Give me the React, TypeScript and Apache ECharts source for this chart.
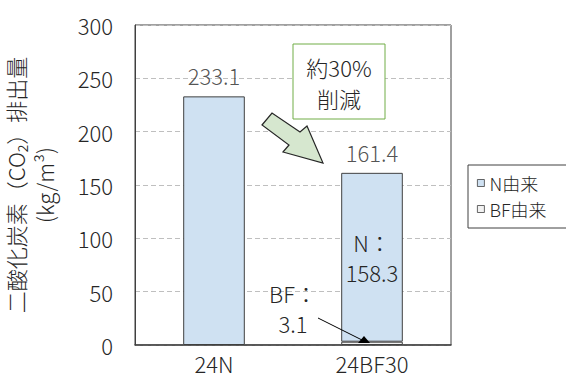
import React, { useEffect, useRef } from "react";
import * as echarts from "echarts";

const categories = ["24N", "24BF30"];
const nValues = [233.1, 158.3];
const bfValues: (number | null)[] = [null, 3.1];
const totals = [233.1, 161.4];
const yTicks = [0, 50, 100, 150, 200, 250, 300];
const seriesNames = ["N由来", "BF由来"];
const yTitle = "二酸化炭素（CO₂）排出量\n(kg/m³)";
const noteText = "約30%\n削減";

const FONT = "'Noto Sans CJK JP', 'Noto Sans', sans-serif";
const TXT = "#262626";
const FW = 300;

export default function App() {
  const ref = useRef<HTMLDivElement>(null);
  useEffect(() => {
    if (!ref.current) return;
    const chart = echarts.init(ref.current, null, { renderer: "svg" });
    const option: any = {
      animation: false,
      textStyle: { fontFamily: FONT, fontWeight: FW },
      grid: {
        left: 135,
        right: 115,
        top: 25,
        bottom: 35,
        show: true,
        borderColor: "#404040",
        borderWidth: 1,
        containLabel: false,
        outerBoundsMode: "none",
      },
      legend: {
        data: [seriesNames[0], seriesNames[1]],
        orient: "vertical",
        left: 468,
        top: 165,
        padding: [8, 60, 9, 9],
        itemGap: 6,
        itemWidth: 7,
        itemHeight: 7,
        icon: "rect",
        itemStyle: { borderWidth: 0.8, borderColor: "#404040" },
        borderColor: "#404040",
        borderWidth: 1,
        textStyle: { fontSize: 18, color: TXT, fontFamily: FONT, fontWeight: FW, lineHeight: 20 },
      },
      xAxis: {
        type: "category",
        data: categories,
        axisTick: { show: false },
        axisLine: { lineStyle: { color: "#404040", width: 1.5 } },
        axisLabel: { fontSize: 22, color: TXT, margin: 7, fontFamily: FONT, fontWeight: FW },
      },
      yAxis: {
        type: "value",
        min: yTicks[0],
        max: yTicks[yTicks.length - 1],
        interval: 50,
        axisLine: { show: true, lineStyle: { color: "#404040" } },
        axisTick: { show: false },
        axisLabel: { fontSize: 22, color: TXT, margin: 22, fontFamily: FONT, fontWeight: FW },
        splitLine: { lineStyle: { color: "#bfbfbf", type: [5, 3] } },
        name: yTitle,
        nameLocation: "middle",
        nameRotate: 90,
        nameGap: 77,
        nameTextStyle: {
          fontSize: 22,
          color: TXT,
          lineHeight: 29,
          align: "center",
          fontFamily: FONT,
          fontWeight: FW,
        },
      },
      series: [
        {
          name: seriesNames[1],
          type: "bar",
          stack: "total",
          barWidth: "39%",
          itemStyle: { color: "#f2f2f2", borderColor: "#404040", borderWidth: 1 },
          data: bfValues.map((v) => ({
            value: v,
            label:
              v !== null
                ? {
                    show: true,
                    position: "inside",
                    offset: [-79, -35],
                    formatter: "BF：\n" + v,
                    fontSize: 22,
                    lineHeight: 30,
                    color: TXT,
                    fontFamily: FONT,
                    fontWeight: FW,
                  }
                : { show: false },
          })),
        },
        {
          name: seriesNames[0],
          type: "bar",
          stack: "total",
          barWidth: "39%",
          itemStyle: { color: "#cfe1f2", borderColor: "#404040", borderWidth: 1 },
          data: nValues.map((v, i) => ({
            value: v,
            label:
              i === 1
                ? {
                    show: true,
                    position: "inside",
                    formatter: "N：\n" + v,
                    fontSize: 22,
                    lineHeight: 30,
                    color: TXT,
                    fontFamily: FONT,
                    fontWeight: FW,
                  }
                : { show: false },
          })),
        },
        {
          name: "total",
          type: "scatter",
          symbolSize: 0,
          data: totals,
          label: {
            show: true,
            position: "top",
            distance: 10,
            fontSize: 22,
            color: TXT,
            fontFamily: FONT,
            fontWeight: FW,
            formatter: (p: any) => String(p.value),
          },
          silent: true,
        },
      ],
      graphic: [
        {
          type: "rect",
          shape: { x: 293, y: 44, width: 92, height: 75 },
          style: { fill: "#ffffff", stroke: "#70ad47", lineWidth: 1 },
          z: 100,
        },
        {
          type: "text",
          x: 339,
          y: 82,
          style: {
            text: noteText,
            fontSize: 22,
            lineHeight: 31,
            fill: TXT,
            align: "center",
            verticalAlign: "middle",
            fontFamily: FONT,
            fontWeight: FW,
          },
          z: 101,
        },
        {
          type: "polygon",
          shape: {
            points: [
              [262, 125],
              [272, 113],
              [300, 132],
              [307, 126],
              [323, 163],
              [283, 152],
              [289, 145],
            ],
          },
          style: { fill: "#d6e7cf", stroke: "#262626", lineWidth: 1.2 },
          z: 100,
        },
        {
          type: "line",
          shape: { x1: 318, y1: 318, x2: 362, y2: 340 },
          style: { stroke: "#000000", lineWidth: 1 },
          z: 100,
        },
        {
          type: "polygon",
          shape: { points: [[364, 336], [358, 343], [370, 343]] },
          style: { fill: "#000000" },
          z: 100,
        },
      ],
    };
    chart.setOption(option);
    return () => chart.dispose();
  }, []);
  return (
    <div
      ref={ref}
      style={{ position: "absolute", left: 0, top: 0, width: 566, height: 380, background: "#fff" }}
    />
  );
}
